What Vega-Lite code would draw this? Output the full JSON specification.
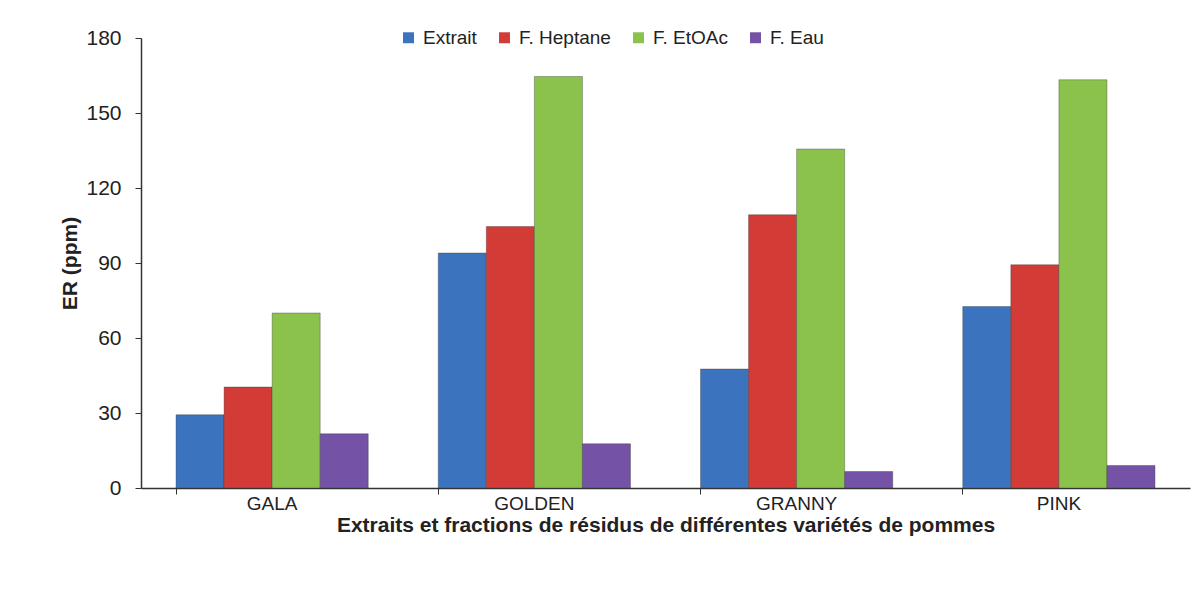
{
  "$schema": "https://vega.github.io/schema/vega-lite/v6.json",
  "autosize": {"type": "none"},
  "width": 1049,
  "height": 450,
  "padding": {"left": 141, "top": 38, "right": 13, "bottom": 115},
  "background": "white",
  "config": {
    "font": "Liberation Sans",
    "view": {"stroke": null}
  },
  "data": {
    "values": [
      {"variete": "GALA", "serie": "Extrait", "er": 29.3},
      {"variete": "GALA", "serie": "F. Heptane", "er": 40.4},
      {"variete": "GALA", "serie": "F. EtOAc", "er": 70.0},
      {"variete": "GALA", "serie": "F. Eau", "er": 21.7},
      {"variete": "GOLDEN", "serie": "Extrait", "er": 94.0},
      {"variete": "GOLDEN", "serie": "F. Heptane", "er": 104.6},
      {"variete": "GOLDEN", "serie": "F. EtOAc", "er": 164.6},
      {"variete": "GOLDEN", "serie": "F. Eau", "er": 17.7},
      {"variete": "GRANNY", "serie": "Extrait", "er": 47.6},
      {"variete": "GRANNY", "serie": "F. Heptane", "er": 109.3},
      {"variete": "GRANNY", "serie": "F. EtOAc", "er": 135.6},
      {"variete": "GRANNY", "serie": "F. Eau", "er": 6.6},
      {"variete": "PINK", "serie": "Extrait", "er": 72.6},
      {"variete": "PINK", "serie": "F. Heptane", "er": 89.3},
      {"variete": "PINK", "serie": "F. EtOAc", "er": 163.3},
      {"variete": "PINK", "serie": "F. Eau", "er": 9.0}
    ]
  },
  "mark": {"type": "bar", "stroke": "#333333", "strokeOpacity": 0.35, "strokeWidth": 1},
  "encoding": {
    "x": {
      "field": "variete",
      "type": "nominal",
      "sort": ["GALA", "GOLDEN", "GRANNY", "PINK"],
      "scale": {"paddingInner": 0.267, "paddingOuter": 0.1335},
      "axis": {
        "title": "Extraits et fractions de résidus de différentes variétés de pommes",
        "titleFontSize": 21,
        "titleFontWeight": "bold",
        "titleColor": "#222222",
        "titleBaseline": "middle",
        "titleY": 37,
        "labelAngle": 0,
        "labelFontSize": 19,
        "labelColor": "#222222",
        "labelPadding": 0,
        "bandPosition": 0,
        "tickSize": 6,
        "tickColor": "#333333",
        "domainColor": "#333333",
        "domainWidth": 1.5
      }
    },
    "xOffset": {
      "field": "serie",
      "type": "nominal",
      "sort": ["Extrait", "F. Heptane", "F. EtOAc", "F. Eau"],
      "scale": {"paddingInner": 0, "paddingOuter": 0}
    },
    "y": {
      "field": "er",
      "type": "quantitative",
      "scale": {"domain": [0, 180], "nice": false},
      "axis": {
        "title": "ER (ppm)",
        "titleFontSize": 21,
        "titleFontWeight": "bold",
        "titleColor": "#222222",
        "titleBaseline": "middle",
        "titleX": -71,
        "titleY": 225,
        "values": [0, 30, 60, 90, 120, 150, 180],
        "labelFontSize": 21,
        "labelColor": "#222222",
        "labelPadding": 14,
        "tickSize": 6,
        "tickColor": "#333333",
        "domainColor": "#333333",
        "domainWidth": 1.5,
        "grid": false
      }
    },
    "color": {
      "field": "serie",
      "type": "nominal",
      "sort": ["Extrait", "F. Heptane", "F. EtOAc", "F. Eau"],
      "scale": {
        "domain": ["Extrait", "F. Heptane", "F. EtOAc", "F. Eau"],
        "range": ["#3B73BF", "#D33B37", "#8BC24C", "#7452A5"]
      },
      "legend": {
        "title": null,
        "orient": "none",
        "direction": "horizontal",
        "legendX": 258,
        "legendY": -10,
        "symbolType": "square",
        "symbolSize": 120,
        "symbolStrokeWidth": 0,
        "labelFontSize": 19,
        "labelColor": "#222222",
        "labelOffset": 5,
        "columnPadding": 18
      }
    }
  }
}
